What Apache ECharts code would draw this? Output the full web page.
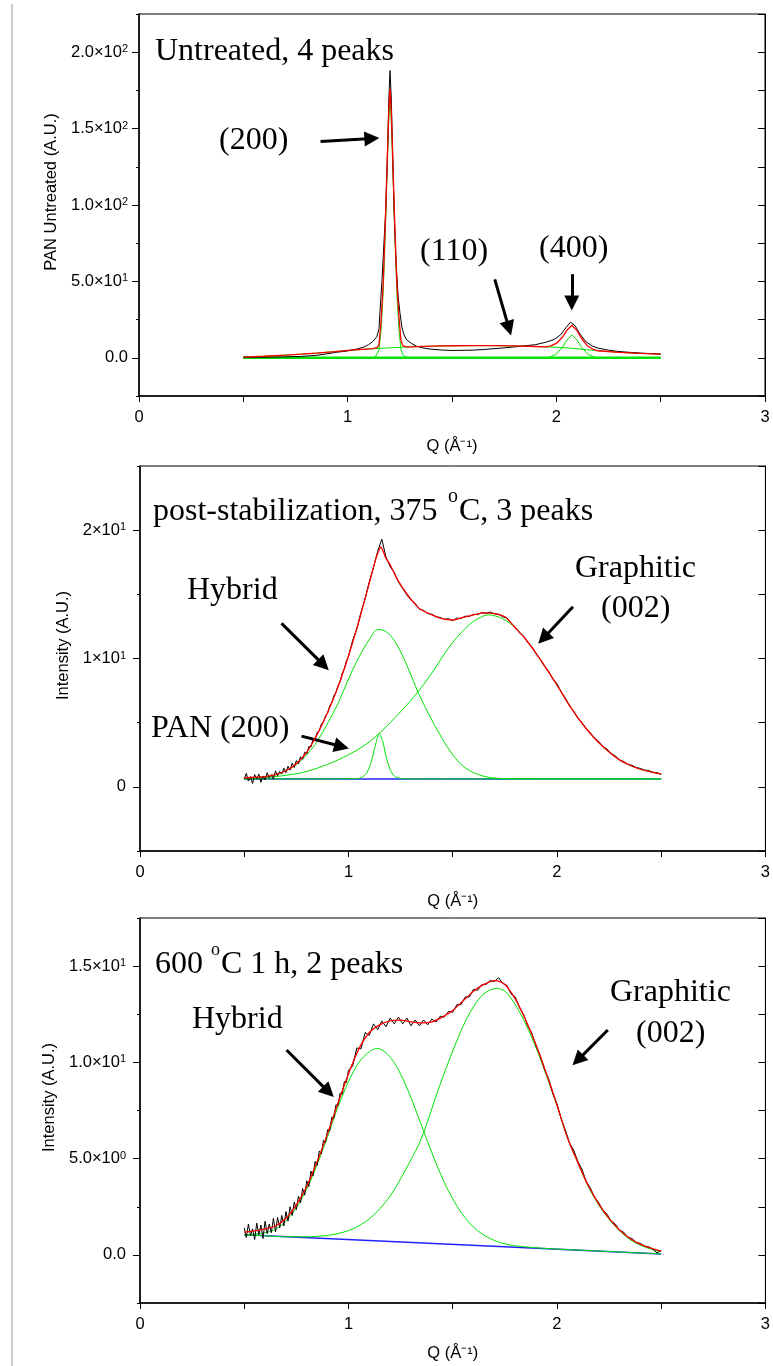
<!DOCTYPE html>
<html>
<head>
<meta charset="utf-8">
<script src="https://cdn.jsdelivr.net/npm/echarts@6/dist/echarts.min.js"></script>
<style>
  html, body { margin: 0; padding: 0; background: #fff; }
  #chart { width: 773px; height: 1366px; }
</style>
</head>
<body>
<div id="chart"></div>
<script>
// ---- tick labels ('^' marks the exponent) ----
const xTicks = [0, 1, 2, 3];
const xLabels = ['0', '1', '2', '3'];
const p1YTicks = [0, 50, 100, 150, 200];
const p1YLabels = ['0.0', '5.0×10^1', '1.0×10^2', '1.5×10^2', '2.0×10^2'];
const p2YTicks = [0, 10, 20];
const p2YLabels = ['0', '1×10^1', '2×10^1'];
const p3YTicks = [0, 5, 10, 15];
const p3YLabels = ['0.0', '5.0×10^0', '1.0×10^1', '1.5×10^1'];

// ---- panel 1 : untreated, [Q, intensity] ----
const p1Measured = [[0.50,0.3],[0.60,0.4],[0.70,0.6],[0.78,0.9],[0.85,1.6],[0.90,2.6],[0.94,3.5],[1.00,4.5],[1.05,5.9],[1.08,7.2],[1.10,8.6],[1.12,10.6],[1.14,13.8],[1.15,19],[1.155,30],[1.165,52],[1.175,78],[1.182,96],[1.19,130],[1.197,168],[1.203,188],[1.209,170],[1.216,132],[1.222,98],[1.232,62],[1.242,40],[1.25,30],[1.26,20],[1.27,15],[1.283,11.7],[1.307,9.3],[1.33,7.6],[1.36,6.5],[1.39,5.8],[1.45,5.1],[1.5,4.8],[1.6,5.0],[1.66,5.5],[1.75,6.5],[1.82,7.4],[1.9,8.6],[1.95,10.2],[1.99,12.0],[2.02,15.0],[2.045,19.6],[2.068,23.3],[2.09,21.0],[2.11,16.2],[2.14,10.8],[2.17,7.8],[2.2,6.3],[2.25,5.0],[2.3,4.1],[2.35,3.6],[2.4,3.1],[2.45,2.8],[2.5,2.5]];
const p1Fit = [[0.50,0.5],[0.60,1.0],[0.70,1.7],[0.78,2.4],[0.85,3.1],[0.94,4.1],[1.00,4.8],[1.07,5.5],[1.12,6.0],[1.14,6.6],[1.15,8.5],[1.16,24],[1.17,48],[1.18,86],[1.19,131],[1.197,161],[1.203,176],[1.209,161],[1.216,131],[1.226,86],[1.236,48],[1.246,26],[1.256,11],[1.266,7.8],[1.28,7.1],[1.3,7.2],[1.4,7.6],[1.5,7.9],[1.6,8.0],[1.7,8.0],[1.8,7.8],[1.9,7.4],[1.95,7.2],[1.97,7.6],[2.0,9.4],[2.03,13.6],[2.05,17.9],[2.074,21.3],[2.1,17.6],[2.12,12.8],[2.15,7.7],[2.18,5.3],[2.2,4.6],[2.3,3.6],[2.4,2.9],[2.5,2.4]];
const p1Broad = [[0.50,0.5],[0.60,1.0],[0.70,1.7],[0.78,2.4],[0.85,3.1],[0.94,4.1],[1.00,4.8],[1.07,5.5],[1.15,6.2],[1.20,6.5],[1.30,7.2],[1.40,7.6],[1.50,7.9],[1.60,8.0],[1.70,8.0],[1.80,7.8],[1.90,7.4],[2.00,6.9],[2.07,6.3],[2.15,5.2],[2.20,4.6],[2.30,3.6],[2.40,2.9],[2.50,2.4]];
const p1Peak200 = [[0.5,0],[1.12,0],[1.131,0.3],[1.14,1.5],[1.15,5],[1.16,18],[1.17,42],[1.18,80],[1.19,125],[1.197,155],[1.203,170],[1.209,155],[1.216,125],[1.226,80],[1.236,42],[1.246,18],[1.256,5],[1.266,1.5],[1.275,0.3],[1.29,0],[2.5,0]];
const p1Peak400 = [[0.5,0],[1.95,0],[1.97,0.5],[2.0,2.5],[2.03,7],[2.05,11.5],[2.074,15],[2.1,11.5],[2.12,7],[2.15,2.5],[2.18,0.5],[2.2,0],[2.5,0]];
const p1Base = [[0.5,0],[2.5,0]];

// ---- Q grid of the measured curves of panels 2 and 3 ----
const qData = [
  0.50,0.51,0.52,0.53,0.54,0.55,0.56,0.57,0.58,0.59,
  0.60,0.61,0.62,0.63,0.64,0.65,0.66,0.67,0.68,0.69,
  0.70,0.71,0.72,0.73,0.74,0.75,0.76,0.77,0.78,0.79,
  0.80,0.81,0.82,0.83,0.84,0.85,0.86,0.87,0.88,0.89,
  0.90,0.91,0.92,0.93,0.94,0.95,0.96,0.97,0.98,0.99,
  1.00,
  1.02,1.04,1.06,1.08,1.10,1.12,1.14,1.16,1.18,1.20,
  1.22,1.24,1.26,1.28,1.30,1.32,1.34,1.36,1.38,1.40,
  1.42,1.44,1.46,1.48,1.50,1.52,1.54,1.56,1.58,1.60,
  1.62,1.64,1.66,1.68,1.70,1.72,1.74,1.76,1.78,1.80,
  1.82,1.84,1.86,1.88,1.90,1.92,1.94,1.96,1.98,2.00,
  2.02,2.04,2.06,2.08,2.10,2.12,2.14,2.16,2.18,2.20,
  2.22,2.24,2.26,2.28,2.30,2.32,2.34,2.36,2.38,2.40,
  2.42,2.44,2.46,2.48,2.50
];

// ---- panel 2 : post-stabilization 375 C ----
const p2Measured = [
  0.60,1.05,0.45,0.80,0.25,0.95,0.60,1.00,0.35,0.85,
  0.55,1.10,0.70,0.95,0.60,1.25,0.85,1.20,1.00,1.45,
  1.10,1.60,1.30,1.85,1.50,2.05,1.80,2.35,2.15,2.70,
  2.55,3.15,3.10,3.70,3.70,4.25,4.35,4.90,5.05,5.55,
  5.75,6.30,6.55,7.10,7.35,7.90,8.20,8.85,9.20,9.80,
  10.15,
  11.40,12.30,13.60,14.65,16.00,17.10,18.35,19.30,17.90,17.15,
  16.70,15.95,15.45,14.95,14.55,14.30,13.85,13.75,13.50,13.45,
  13.25,13.20,13.05,13.10,12.95,13.15,13.12,13.30,13.28,13.45,
  13.42,13.58,13.52,13.62,13.48,13.45,13.25,13.15,12.75,12.45,
  12.00,11.75,11.25,10.90,10.35,9.95,9.40,9.00,8.40,8.05,
  7.40,6.95,6.30,5.90,5.35,5.02,4.52,4.22,3.80,3.55,
  3.15,2.95,2.58,2.42,2.08,1.98,1.75,1.68,1.50,1.44,
  1.30,1.27,1.14,1.10,0.98
];
const p2Fit = [[0.50,0.70],[0.55,0.75],[0.60,0.80],[0.65,0.95],[0.70,1.25],[0.75,1.80],[0.80,2.70],[0.85,4.10],[0.90,5.80],[0.95,7.80],[1.00,10.2],[1.05,12.9],[1.08,14.7],[1.11,16.5],[1.13,17.7],[1.145,18.4],[1.155,18.7],[1.165,18.4],[1.18,17.8],[1.20,17.3],[1.23,16.3],[1.26,15.5],[1.30,14.6],[1.34,13.9],[1.40,13.4],[1.45,13.1],[1.50,13.0],[1.55,13.2],[1.60,13.4],[1.65,13.55],[1.70,13.5],[1.75,13.25],[1.80,12.4],[1.85,11.5],[1.90,10.4],[1.95,9.2],[2.00,7.95],[2.05,6.6],[2.10,5.4],[2.15,4.35],[2.20,3.45],[2.25,2.72],[2.30,2.1],[2.35,1.68],[2.40,1.37],[2.45,1.17],[2.50,1.0]];
const p2Hybrid = [[0.50,0.63],[0.55,0.68],[0.60,0.78],[0.65,0.95],[0.70,1.25],[0.75,1.75],[0.80,2.5],[0.85,3.55],[0.90,4.95],[0.95,6.5],[1.00,8.4],[1.05,10.1],[1.10,11.5],[1.14,12.27],[1.18,12.1],[1.22,11.4],[1.26,10.2],[1.30,8.7],[1.34,7.15],[1.40,5.2],[1.45,3.75],[1.50,2.5],[1.55,1.6],[1.60,1.1],[1.66,0.78],[1.72,0.66],[1.80,0.63],[2.50,0.62]];
const p2Graphitic = [[0.50,0.64],[0.55,0.68],[0.60,0.73],[0.65,0.80],[0.70,0.90],[0.75,1.02],[0.80,1.2],[0.85,1.45],[0.90,1.75],[0.95,2.1],[1.00,2.5],[1.05,2.95],[1.10,3.5],[1.15,4.2],[1.20,5.0],[1.25,5.85],[1.30,6.75],[1.34,7.55],[1.38,8.4],[1.42,9.35],[1.46,10.35],[1.50,11.25],[1.54,12.0],[1.58,12.65],[1.62,13.1],[1.67,13.4],[1.74,13.1],[1.80,12.4],[1.85,11.5],[1.90,10.4],[1.95,9.2],[2.00,7.95],[2.05,6.6],[2.10,5.4],[2.15,4.35],[2.20,3.45],[2.25,2.72],[2.30,2.1],[2.35,1.68],[2.40,1.37],[2.45,1.17],[2.50,1.0]];
const p2Pan200 = [[0.50,0.62],[1.04,0.63],[1.07,0.8],[1.09,1.15],[1.11,2.0],[1.13,3.3],[1.148,4.17],[1.165,3.5],[1.18,2.4],[1.20,1.35],[1.22,0.85],[1.25,0.66],[1.27,0.62],[2.50,0.62]];
const p2Base = [[0.5,0.62],[2.5,0.62]];

// ---- panel 3 : 600 C 1 h ----
const p3Measured = [
  1.40,0.90,1.60,1.00,1.35,0.80,1.65,1.05,1.55,0.85,
  1.75,1.10,1.60,1.15,1.90,1.20,1.95,1.40,2.05,1.50,
  2.25,1.75,2.50,2.05,2.75,2.35,3.05,2.70,3.45,3.10,
  3.85,3.55,4.35,4.10,4.85,4.65,5.40,5.25,5.95,5.85,
  6.50,6.45,7.15,7.10,7.80,7.75,8.40,8.35,9.00,8.95,
  9.60,
  9.80,10.75,10.70,11.55,11.40,12.00,11.70,12.15,11.85,12.30,
  12.00,12.35,12.00,12.30,11.90,12.20,11.90,12.20,11.95,12.25,
  12.10,12.40,12.35,12.65,12.60,13.00,13.00,13.40,13.40,13.80,
  13.75,14.05,14.05,14.25,14.20,14.40,14.10,14.00,13.55,13.40,
  12.85,12.50,11.90,11.50,10.85,10.35,9.65,9.15,8.40,7.85,
  7.08,6.50,5.82,5.45,4.86,4.45,3.82,3.48,3.00,2.72,
  2.32,2.12,1.75,1.60,1.28,1.18,0.92,0.85,0.65,0.60,
  0.45,0.42,0.30,0.10,0.25
];
const p3Fit = [[0.50,1.18],[0.55,1.25],[0.60,1.35],[0.65,1.5],[0.70,1.9],[0.75,2.6],[0.80,3.55],[0.85,4.85],[0.90,6.3],[0.95,7.9],[1.00,9.4],[1.05,10.7],[1.10,11.55],[1.15,11.95],[1.20,12.15],[1.25,12.2],[1.30,12.1],[1.35,12.05],[1.40,12.1],[1.45,12.35],[1.50,12.7],[1.55,13.2],[1.60,13.7],[1.65,14.05],[1.70,14.25],[1.75,14.05],[1.80,13.3],[1.85,12.2],[1.90,10.9],[1.95,9.4],[2.00,7.8],[2.05,6.1],[2.10,4.8],[2.15,3.6],[2.20,2.65],[2.25,1.9],[2.30,1.3],[2.35,0.85],[2.40,0.55],[2.45,0.35],[2.50,0.2]];
const p3Hybrid = [[0.50,1.05],[0.55,1.08],[0.60,1.15],[0.65,1.32],[0.70,1.75],[0.75,2.45],[0.80,3.42],[0.85,4.70],[0.90,6.15],[0.95,7.7],[1.00,9.0],[1.05,10.0],[1.10,10.55],[1.14,10.73],[1.18,10.5],[1.22,9.98],[1.26,9.17],[1.30,8.16],[1.34,7.02],[1.38,5.87],[1.42,4.76],[1.46,3.76],[1.50,2.91],[1.54,2.21],[1.58,1.66],[1.62,1.25],[1.66,0.96],[1.70,0.75],[1.75,0.57],[1.80,0.47],[1.90,0.37],[2.00,0.30],[2.50,0.05]];
const p3Graphitic = [[0.50,1.04],[0.60,0.99],[0.70,0.94],[0.80,0.94],[0.90,1.01],[0.95,1.11],[1.00,1.26],[1.05,1.51],[1.10,1.87],[1.15,2.39],[1.20,3.06],[1.25,3.95],[1.30,4.95],[1.34,5.8],[1.38,6.95],[1.42,8.25],[1.46,9.45],[1.50,10.59],[1.55,11.88],[1.60,12.9],[1.65,13.57],[1.707,13.84],[1.75,13.7],[1.80,13.0],[1.85,12.0],[1.90,10.75],[1.95,9.3],[2.00,7.75],[2.05,6.1],[2.10,4.8],[2.15,3.55],[2.20,2.6],[2.25,1.85],[2.30,1.25],[2.35,0.8],[2.40,0.5],[2.45,0.3],[2.50,0.15]];
const p3Base = [[0.5,1.04],[2.5,0.05]];

// ---- annotation arrows, [start, end] in data coordinates ----
const p1Arrows = [[[0.870,141.6],[1.116,143.5]], [[1.705,51.3],[1.773,19.3]], [[2.074,54.7],[2.074,35.8]]];
const p2Arrows = [[[0.679,12.74],[0.880,9.5]], [[0.775,3.95],[0.967,3.14]], [[2.077,14.03],[1.935,11.58]]];
const p3Arrows = [[[0.703,10.64],[0.904,8.47]], [[2.244,11.68],[2.100,10.12]]];

const fontSans = 'Liberation Sans, Arial, Helvetica, sans-serif';
const fontSerif = 'Liberation Serif, Times New Roman, serif';
const GREEN = '#00e400';
const TICK_FONT = 16.5;

const chart = echarts.init(document.getElementById('chart'), null, {renderer: 'canvas'});

const panels = [
  {top: 14, height: 382, left: 139, ymin: -25, ymax: 225, step: 25, ticks: p1YTicks, labels: p1YLabels,
   name: 'PAN Untreated (A.U.)', nameGap: 79, margin: 11},
  {top: 466, height: 385, left: 140, ymin: -5, ymax: 25, step: 5, ticks: p2YTicks, labels: p2YLabels,
   name: 'Intensity (A.U.)', nameGap: 66, margin: 14},
  {top: 918, height: 385, left: 140, ymin: -2.5, ymax: 17.5, step: 2.5, ticks: p3YTicks, labels: p3YLabels,
   name: 'Intensity (A.U.)', nameGap: 80, margin: 14}
];

const blackLine = {color: '#000'};

// tick label lookup; 'a^b' is written as a with superscript b
function pickLabel(ticks, labels) {
  return function (v) {
    for (let k = 0; k < ticks.length; k++) {
      if (Math.abs(ticks[k] - v) < 1e-6) {
        const parts = labels[k].split('^');
        return parts.length > 1 ? '{m|' + parts[0] + '}{e|' + parts[1] + '}' : '{m|' + parts[0] + '}';
      }
    }
    return '';
  };
}

const labelRich = {
  m: {fontSize: TICK_FONT, fontFamily: fontSans, color: '#000'},
  e: {fontSize: 11, fontFamily: fontSans, color: '#000', verticalAlign: 'top', padding: [0, 0, 6, 0]}
};

const grids = panels.map(p => ({
  left: p.left, top: p.top, width: 626, height: p.height,
  show: true, borderColor: '#000', borderWidth: 1, backgroundColor: 'transparent'
}));

const xAxes = panels.map((p, i) => ({
  type: 'value', gridIndex: i, min: 0, max: 3, interval: 0.5,
  axisLine: {show: true, onZero: false, lineStyle: {color: '#000', width: 1.5}},
  axisTick: {show: true, inside: false, length: 6, lineStyle: blackLine},
  axisLabel: {margin: 13, color: '#000', fontSize: TICK_FONT, fontFamily: fontSans,
              formatter: pickLabel(xTicks, xLabels), rich: labelRich},
  splitLine: {show: false},
  name: 'Q (Å⁻¹)', nameLocation: 'middle', nameGap: 42,
  nameTextStyle: {color: '#000', fontSize: TICK_FONT, fontFamily: fontSans}
}));

const yAxes = [];
panels.forEach((p, i) => {
  // minor ticks + axis line
  yAxes.push({
    type: 'value', gridIndex: i, position: 'left', min: p.ymin, max: p.ymax, interval: p.step,
    axisLine: {show: true, onZero: false, lineStyle: {color: '#000', width: 1.5}},
    axisTick: {show: true, inside: false, length: 3, lineStyle: blackLine},
    axisLabel: {show: false}, splitLine: {show: false}
  });
  // major ticks + labels
  yAxes.push({
    type: 'value', gridIndex: i, position: 'left', min: p.ymin, max: p.ymax, interval: p.step,
    axisLine: {show: false},
    axisTick: {show: true, inside: false, length: 7, customValues: p.ticks, lineStyle: blackLine},
    axisLabel: {show: true, customValues: p.ticks, margin: p.margin, color: '#000', fontSize: TICK_FONT,
                fontFamily: fontSans, formatter: pickLabel(p.ticks, p.labels), rich: labelRich},
    splitLine: {show: false},
    name: p.name, nameLocation: 'middle', nameRotate: 90, nameGap: p.nameGap,
    nameTextStyle: {color: '#000', fontSize: TICK_FONT, fontFamily: fontSans, padding: [0, 0, 0, 26]}
  });
  // mirrored right axis, ticks inside
  yAxes.push({
    type: 'value', gridIndex: i, position: 'right', min: p.ymin, max: p.ymax, interval: p.step,
    axisLine: {show: true, onZero: false, lineStyle: {color: '#000', width: 1}},
    axisTick: {show: true, inside: true, length: 7, lineStyle: blackLine},
    axisLabel: {show: false}, splitLine: {show: false}
  });
});

function line(gi, data, color, width, z, smooth) {
  return {
    type: 'line', xAxisIndex: gi, yAxisIndex: gi * 3, data: data,
    showSymbol: false, symbol: 'none', smooth: smooth || false, z: z,
    lineStyle: {color: color, width: width}, itemStyle: {color: color},
    animation: false, silent: true
  };
}

function arrows(gi, list) {
  const s = line(gi, [], '#000', 1, 20);
  s.markLine = {
    silent: true, animation: false, symbol: ['none', 'triangle'], symbolSize: 15,
    label: {show: false}, emphasis: {disabled: true},
    lineStyle: {color: '#000', width: 3, type: 'solid', opacity: 1},
    data: list.map(a => [{coord: a[0]}, {coord: a[1]}])
  };
  return s;
}

function withQ(values) {
  return qData.map((q, k) => [q, values[k]]);
}

const series = [
  // panel 1
  line(0, p1Base, GREEN, 2.5, 2),
  line(0, p1Broad, GREEN, 1, 3),
  line(0, p1Peak200, GREEN, 1, 3),
  line(0, p1Peak400, GREEN, 1, 3),
  line(0, p1Measured, '#000', 1, 4),
  line(0, p1Fit, '#ff0000', 1.3, 5),
  arrows(0, p1Arrows),
  // panel 2
  line(1, p2Base, '#2222ff', 1.5, 2),
  line(1, p2Hybrid, GREEN, 1, 3, 0.3),
  line(1, p2Graphitic, GREEN, 1, 3, 0.3),
  line(1, p2Pan200, GREEN, 1, 3, 0.3),
  line(1, withQ(p2Measured), '#000', 1, 4),
  line(1, p2Fit, '#ff0000', 1.3, 5, 0.3),
  arrows(1, p2Arrows),
  // panel 3
  line(2, p3Base, '#2222ff', 1.5, 2),
  line(2, p3Hybrid, GREEN, 1, 3, 0.3),
  line(2, p3Graphitic, GREEN, 1, 3, 0.3),
  line(2, withQ(p3Measured), '#000', 1, 4),
  line(2, p3Fit, '#ff0000', 1.3, 5, 0.3),
  arrows(2, p3Arrows)
];

function txt(x, y, s, size) {
  return {
    type: 'text', x: x, y: y, z: 100, silent: true,
    style: {text: s, fill: '#000', fontSize: size || 32, fontFamily: fontSerif, align: 'left', verticalAlign: 'middle'}
  };
}

const graphics = [
  {type: 'line', shape: {x1: 12, y1: 4, x2: 12, y2: 1366}, style: {stroke: '#9a9a9a', lineWidth: 1}, silent: true},
  // panel 1
  txt(155, 52, 'Untreated, 4 peaks'),
  txt(219, 141, '(200)'),
  txt(420, 252, '(110)'),
  txt(539, 249, '(400)'),
  // panel 2
  txt(153, 512, 'post-stabilization, 375'),
  txt(448, 497, 'o', 20),
  txt(459, 512, 'C, 3 peaks'),
  txt(187, 591, 'Hybrid'),
  txt(151, 729, 'PAN (200)'),
  txt(575, 569, 'Graphitic'),
  txt(601, 609, '(002)'),
  // panel 3
  txt(155, 965, '600'),
  txt(211, 950, 'o', 18),
  txt(221, 965, 'C 1 h, 2 peaks'),
  txt(192, 1020, 'Hybrid'),
  txt(610, 993, 'Graphitic'),
  txt(636, 1034, '(002)')
];

chart.setOption({
  animation: false,
  backgroundColor: '#fff',
  grid: grids,
  xAxis: xAxes,
  yAxis: yAxes,
  series: series,
  graphic: graphics
});
</script>
</body>
</html>
